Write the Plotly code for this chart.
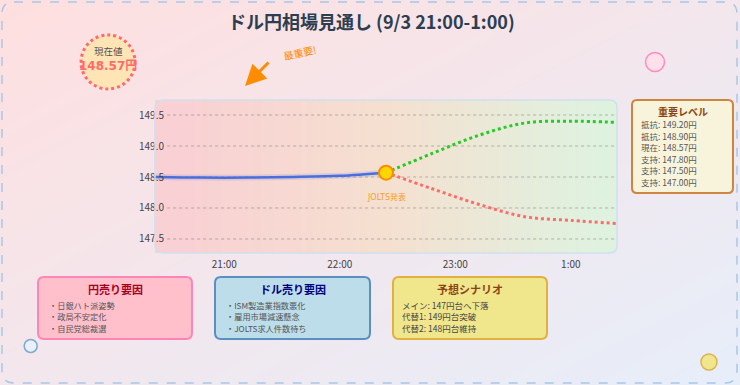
import plotly.graph_objects as go

# ---------------- data ----------------
actual_time = [20.4, 20.8, 21.2, 21.6, 22.0, 22.4]
actual_rate = [148.50, 148.49, 148.49, 148.50, 148.52, 148.57]
forecast_time = [22.4, 22.8, 23.2, 23.6, 24.0, 24.4]
bull_rate = [148.57, 148.88, 149.17, 149.37, 149.40, 149.38]
bear_rate = [148.57, 148.31, 148.06, 147.86, 147.80, 147.75]
event_time = [22.4]
event_rate = [148.57]
event_label = "JOLTS発表"
x_tick_vals = [21, 22, 23, 24]
x_tick_text = ["21:00", "22:00", "23:00", "1:00"]
y_tick_vals = [147.5, 148.0, 148.5, 149.0, 149.5]
title_text = "ドル円相場見通し (9/3 21:00-1:00)"
current_label = "現在値"
current_value = "148.57円"
key_title = "重要レベル"
key_levels = ["抵抗: 149.20円", "抵抗: 148.90円", "現在: 148.57円",
              "支持: 147.80円", "支持: 147.50円", "支持: 147.00円"]
yen_title = "円売り要因"
yen_items = ["・日銀ハト派姿勢", "・政局不安定化", "・自民党総裁選"]
usd_title = "ドル売り要因"
usd_items = ["・ISM製造業指数悪化", "・雇用市場減速懸念", "・JOLTS求人件数待ち"]
scen_title = "予想シナリオ"
scen_items = ["メイン: 147円台へ下落", "代替1: 149円台突破", "代替2: 148円台維持"]

W, H = 740, 385
FONT = "Noto Sans CJK JP"
NUMFONT = "DejaVu Sans, Noto Sans CJK JP"


def X(p):
    return p / W


def Y(p):
    return 1 - p / H


def rrect(x0, y0, x1, y1, r):
    def P(a, b):
        return f"{X(a):.5f},{Y(b):.5f}"
    return (f"M {P(x0 + r, y0)} L {P(x1 - r, y0)} Q {P(x1, y0)} {P(x1, y0 + r)} "
            f"L {P(x1, y1 - r)} Q {P(x1, y1)} {P(x1 - r, y1)} L {P(x0 + r, y1)} "
            f"Q {P(x0, y1)} {P(x0, y1 - r)} L {P(x0, y0 + r)} Q {P(x0, y0)} {P(x0 + r, y0)} Z")


PL, PR, PT, PB = 155, 617, 100, 253

fig = go.Figure()

# page background gradient
fig.add_trace(go.Heatmap(z=[[0.5, 1], [0, 0.5]], x=[0, 1], y=[0, 1],
                         colorscale=[[0, "#ffdfdf"], [1, "#e6eefa"]],
                         zsmooth="best", showscale=False, hoverinfo="skip",
                         xaxis="x", yaxis="y"))
# plot area gradient
n = 12
gx = [X(PL) + (X(PR) - X(PL)) * i / n for i in range(n + 1)]
gz = [i / (n - 1) for i in range(n)]
fig.add_trace(go.Heatmap(z=[gz, gz], x=gx, y=[Y(PB), (Y(PB) + Y(PT)) / 2, Y(PT)],
                         colorscale=[[0, "#f9d0d4"], [0.5, "#f5e0d0"], [1, "#dff2e0"]],
                         zsmooth="best", showscale=False, hoverinfo="skip",
                         xaxis="x", yaxis="y"))

# main chart
fig.add_trace(go.Scatter(x=actual_time, y=actual_rate, mode="lines",
                         line=dict(color="rgba(65,105,225,0.15)", width=6, shape="spline"),
                         hoverinfo="skip", xaxis="x2", yaxis="y2"))
fig.add_trace(go.Scatter(x=actual_time, y=actual_rate, mode="lines",
                         line=dict(color="#4a6fdc", width=2.5, shape="spline"),
                         xaxis="x2", yaxis="y2"))
fig.add_trace(go.Scatter(x=forecast_time, y=bull_rate, mode="lines",
                         line=dict(color="#22cc22", width=3, dash="dot", shape="spline"),
                         xaxis="x2", yaxis="y2"))
fig.add_trace(go.Scatter(x=forecast_time, y=bear_rate, mode="lines",
                         line=dict(color="#ff6b6b", width=3, dash="dot", shape="spline"),
                         xaxis="x2", yaxis="y2"))
fig.add_trace(go.Scatter(x=event_time, y=event_rate, mode="markers",
                         marker=dict(size=14, color="#ffd700",
                                     line=dict(color="#ff8c00", width=2)),
                         xaxis="x2", yaxis="y2"))

shapes = []
# gridlines (start a bit right of the plot edge)
for v in y_tick_vals:
    shapes.append(dict(type="line", xref="x2", yref="y2", x0=20.505, x1=24.4, y0=v, y1=v,
                       line=dict(color="rgba(120,120,120,0.5)", width=1, dash="dot"),
                       layer="below"))
# outer dashed border
shapes.append(dict(type="path", xref="paper", yref="paper", path=rrect(2, 2, 737, 383, 12),
                   line=dict(color="#a8c8e8", width=1.5, dash="dash"), fillcolor="rgba(0,0,0,0)"))
# plot area border
shapes.append(dict(type="path", xref="paper", yref="paper", path=rrect(PL, PT, PR, PB, 8),
                   line=dict(color="#cfe0f0", width=1.5), fillcolor="rgba(0,0,0,0)"))
# key levels box
shapes.append(dict(type="path", xref="paper", yref="paper", path=rrect(632, 100, 733, 193, 5),
                   line=dict(color="#cd853f", width=2), fillcolor="#f8f4dc"))
# bottom boxes
boxes = [
    (38, 192, "#ffc0cb", "#ff85b8"),
    (215, 370, "#bcdde9", "#5b8fc0"),
    (393, 547, "#f0e68c", "#e0b040"),
]
for x0, x1, fc, lc in boxes:
    shapes.append(dict(type="path", xref="paper", yref="paper", path=rrect(x0, 277, x1, 339, 6),
                       line=dict(color=lc, width=2), fillcolor=fc))


def circle(cx, cy, r, fill, line, width=1.5, dash="solid"):
    return dict(type="circle", xref="paper", yref="paper",
                x0=X(cx - r), x1=X(cx + r), y0=Y(cy + r), y1=Y(cy - r),
                fillcolor=fill, line=dict(color=line, width=width, dash=dash))


shapes.append(circle(108, 62, 27, "#ffe4b5", "#ff6b6b", 3, "dot"))
shapes.append(circle(655, 62, 9.5, "#fde0ea", "#ff8cc0", 1.5))
shapes.append(circle(30.7, 346, 6.5, "#e8f0fb", "#7fa8d0", 1.5))
shapes.append(circle(709, 362, 8, "#f0e68c", "#e0b050", 1.5))

ann = []


def text(x, y, s, size, color, bold=False, xanchor="center", angle=0, family=FONT):
    ann.append(dict(x=X(x), y=Y(y), xref="paper", yref="paper", text=f"<b>{s}</b>" if bold else s,
                    showarrow=False, xanchor=xanchor, yanchor="middle", textangle=angle,
                    borderpad=0,
                    font=dict(family=family, size=size, color=color)))


text(371, 21, title_text, 18, "#2c3e50", bold=True)
text(108, 51, current_label, 9.5, "#555555")
text(108, 66, current_value, 12, "#ff6b6b", bold=True, family=NUMFONT)
text(299, 52, "最重要!", 10, "#ff8c00", angle=-12)
# arrow
ann.append(dict(x=X(245), y=Y(86), xref="paper", yref="paper", ax=25, ay=-25,
                axref="pixel", ayref="pixel", text="", showarrow=True,
                arrowhead=2, arrowsize=1.4, arrowwidth=3, arrowcolor="#ff8c00"))
# event label
ann.append(dict(x=event_time[0], y=event_rate[0], xref="x2", yref="y2", text=event_label,
                showarrow=False, yshift=-24, font=dict(family=NUMFONT, size=8, color="#f5a030")))

# key levels
text(682.5, 111, key_title, 10, "#8b4513", bold=True)
for i, s in enumerate(key_levels):
    text(640, 124.3 + i * 11.5, s, 8.5, "#555555", xanchor="left")

# bottom boxes text
text(115, 289, yen_title, 11, "#a5001e", bold=True)
for i, s in enumerate(yen_items):
    text(48, 305 + i * 11.3, s, 8.2, "#555555", xanchor="left")
text(292.5, 289, usd_title, 11, "#000080", bold=True)
for i, s in enumerate(usd_items):
    text(225, 305 + i * 11.3, s, 8.2, "#555555", xanchor="left")
text(470, 289, scen_title, 11, "#8b4513", bold=True)
for i, s in enumerate(scen_items):
    text(401, 305 + i * 11.3, s, 8.5, "#444444", xanchor="left")

fig.update_layout(
    width=W, height=H, margin=dict(l=0, r=0, t=0, b=0),
    paper_bgcolor="white", plot_bgcolor="rgba(0,0,0,0)", showlegend=False,
    xaxis=dict(domain=[0, 1], range=[0, 1], visible=False, fixedrange=True),
    yaxis=dict(domain=[0, 1], range=[0, 1], visible=False, fixedrange=True),
    xaxis2=dict(domain=[X(PL), X(PR)], range=[20.4, 24.4], anchor="y2",
                tickvals=x_tick_vals, ticktext=x_tick_text, showgrid=False,
                zeroline=False, showline=False, ticks="", ticklabelstandoff=4,
                tickfont=dict(family=FONT, size=10, color="#444444")),
    yaxis2=dict(domain=[Y(PB), Y(PT)], range=[147.274, 149.742], anchor="x2",
                tickvals=y_tick_vals, tickformat=".1f", showgrid=False,
                zeroline=False, showline=False, ticks="", ticklabelstandoff=-10,
                tickfont=dict(family=FONT, size=10, color="#444444")),
    shapes=shapes, annotations=ann,
)

fig.write_html("out.html")
